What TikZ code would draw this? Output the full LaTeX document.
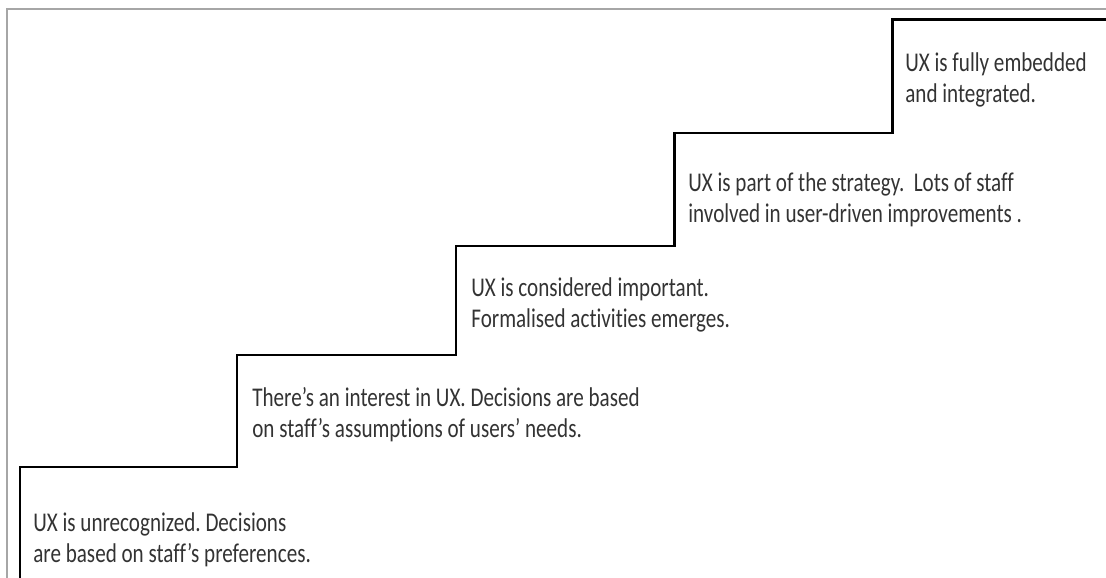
\documentclass[tikz,border=0pt]{standalone}
\usepackage{fontspec}
\setmainfont[FakeStretch=0.78,RawFeature={-liga;-dlig;-calt;-clig}]{Carlito}
\frenchspacing

\tikzset{
  stair/.style = {line width=1.7pt, black},
  steptext/.style = {anchor=base west, align=left, inner sep=0pt,
                     text=black!80, font=\fontsize{15.4pt}{18pt}\selectfont}
}

\begin{document}
\begin{tikzpicture}[x=0.02cm,y=0.02cm]
            \useasboundingbox (0,0) rectangle (1106,578);
            % frame round the figure
            \draw [gray!70, line width=1pt] (7,0) -- (7,569) -- (1106,569);
            % the staircase
            \draw [stair] (20,0) -- (20,111) -- (237,111) -- (237,223) -- (456,223)
                  -- (456,332) -- (674,332) -- (674,445) -- (892,445) -- (892,558) -- (1106,558);
            % texts sit on the baseline of their last line
            \node [steptext] (lvl0) at (33,15) {UX is unrecognized. Decisions\\are based on staff’s preferences.};
            \node [steptext] (lvl1) at (252,140) {There’s an interest in UX. Decisions are based\\on staff’s assumptions of users’ needs.};
            \node [steptext] (lvl2) at (471,250) {UX is considered important.\\Formalised activities emerges.};
            \node [steptext] (lvl3) at (688,355) {UX is part of the strategy.\ \ Lots of staff\\involved in user-driven improvements .};
            \node [steptext] (lvl4) at (905,475) {UX is fully embedded\\and integrated.};
        \end{tikzpicture}
\end{document}
